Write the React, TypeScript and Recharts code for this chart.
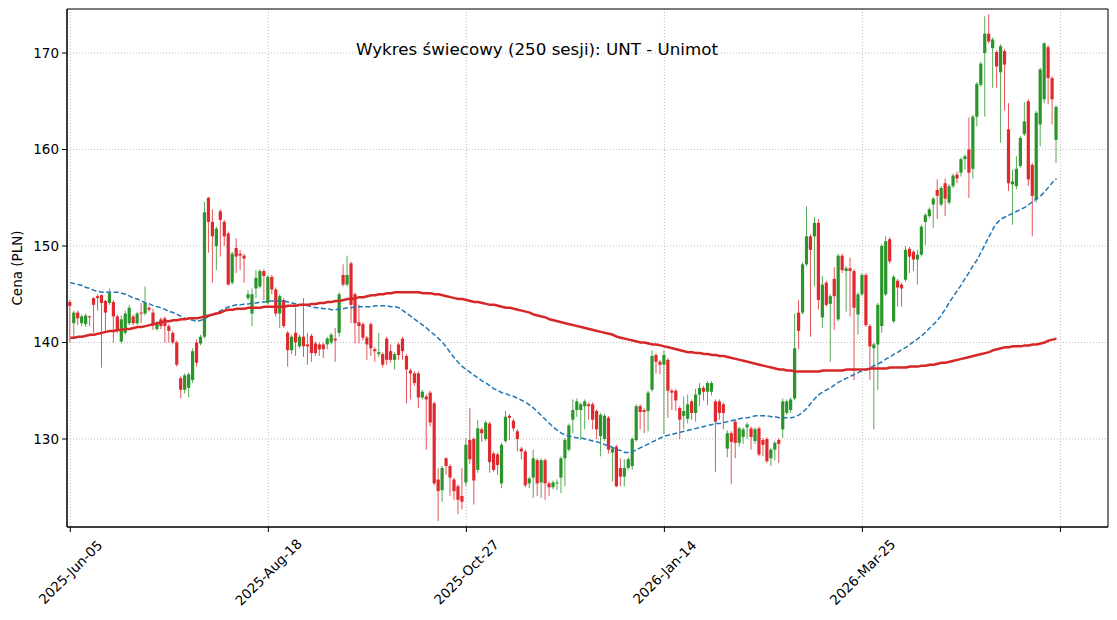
import React from 'react';
import { ComposedChart, Bar, Line, XAxis, YAxis, CartesianGrid, ReferenceArea } from 'recharts';

// Sessions are indexed 0..249; tick labels placed every 50 sessions
const tickIdx = [0, 50, 100, 150, 200, 250];
const tickLabels = ['2025-Jun-05', '2025-Aug-18', '2025-Oct-27', '2026-Jan-14', '2026-Mar-25', ''];
const yTicks = [130, 140, 150, 160, 170];
const xDomain = [-0.83, 262];
const yDomain = [120.88, 174.56];

const opens = [
  144.2, 142.0, 143.1, 142.0, 141.9, 142.7, 144.6, 144.8, 144.9, 144.3,
  144.1, 144.2, 142.7, 140.1, 141.0, 142.0, 142.7, 142.0, 143.1, 143.0,
  143.6, 143.1, 141.4, 142.4, 142.5, 141.7, 141.0, 140.0, 136.3, 135.1,
  135.3, 136.1, 140.0, 139.9, 140.6, 155.0, 152.5, 150.0, 153.6, 152.5,
  151.3, 146.2, 149.8, 149.2, 149.0, 144.6, 143.0, 145.6, 145.8, 147.4,
  144.1, 146.8, 145.5, 143.0, 144.4, 141.0, 139.2, 141.0, 139.6, 140.6,
  139.8, 140.7, 139.9, 139.8, 139.8, 139.8, 140.0, 140.4, 141.0, 147.0,
  146.0, 148.2, 145.0, 142.1, 141.9, 140.5, 141.9, 139.3, 138.8, 138.8,
  140.4, 139.1, 138.2, 139.8, 140.4, 138.6, 137.1, 136.8, 136.8, 134.3,
  134.4, 134.8, 133.7, 125.8, 124.7, 128.0, 127.2, 125.8, 125.1, 124.1,
  125.5, 129.9, 130.0, 126.8, 131.0, 130.0, 131.6, 128.5, 128.4, 125.4,
  129.8, 132.4, 131.9, 130.8, 129.0, 128.7, 125.4, 126.0, 127.8, 125.5,
  127.8, 125.4, 125.0, 125.4, 126.0, 128.0, 128.9, 132.0, 133.0, 133.0,
  133.4, 133.6, 133.6, 132.9, 130.3, 130.0, 132.2, 128.6, 129.2, 127.0,
  126.1, 127.0, 127.2, 129.9, 133.4, 133.0, 132.9, 135.1, 138.7, 138.0,
  137.7, 138.2, 135.0, 135.0, 133.2, 132.4, 132.1, 133.9, 132.7, 134.6,
  135.3, 134.9, 134.9, 133.9, 133.9, 133.6, 129.0, 130.6, 131.8, 129.6,
  130.2, 131.2, 131.1, 129.8, 131.1, 129.9, 130.0, 128.0, 128.9, 129.9,
  131.0, 132.7, 133.0, 134.2, 143.1, 143.1, 148.1, 151.0, 151.0, 152.4,
  142.6, 146.2, 144.0, 146.6, 142.4, 149.0, 147.4, 147.7, 147.4, 142.9,
  145.0, 147.0, 141.7, 139.4, 139.8, 141.7, 145.0, 150.7, 142.2, 146.4,
  146.0, 146.5, 149.7, 149.4, 148.6, 149.1, 152.5, 153.1, 154.3, 155.8,
  154.3, 156.5, 154.5, 156.2, 157.4, 157.6, 159.0, 160.0, 158.0, 163.4,
  166.7, 170.0, 172.0, 170.5, 170.1, 168.0, 170.2, 162.1, 156.4, 156.2,
  158.3, 161.6, 165.0, 158.4, 154.8, 162.6, 165.2, 170.6, 167.4, 161.0,
];

const highs = [
  144.4, 143.3, 143.3, 142.9, 143.0, 142.8, 144.7, 145.0, 145.0, 144.4,
  145.6, 144.4, 142.9, 142.8, 143.3, 143.9, 142.9, 143.2, 144.1, 145.8,
  143.8, 143.5, 142.2, 142.6, 142.7, 141.9, 141.2, 140.2, 136.5, 136.8,
  136.9, 139.4, 140.3, 140.8, 154.6, 155.1, 153.8, 152.0, 153.8, 152.7,
  151.5, 149.4, 150.8, 149.6, 149.2, 145.4, 145.6, 147.5, 147.6, 147.6,
  147.0, 147.0, 145.7, 145.0, 144.6, 141.2, 140.8, 143.6, 140.8, 144.6,
  141.0, 140.9, 140.1, 140.0, 140.0, 140.6, 141.0, 141.5, 145.2, 148.1,
  149.0, 148.4, 145.2, 143.9, 142.1, 140.7, 142.1, 139.5, 141.0, 139.0,
  140.6, 139.8, 139.0, 140.0, 140.6, 138.8, 137.3, 137.0, 137.0, 135.1,
  134.6, 135.0, 133.9, 127.0, 127.2, 128.1, 127.4, 126.0, 125.3, 127.0,
  130.1, 133.2, 130.2, 132.0, 131.2, 131.9, 131.8, 128.7, 128.6, 129.6,
  132.9, 132.6, 132.1, 131.0, 129.2, 128.9, 126.1, 128.9, 128.0, 128.0,
  128.0, 125.6, 125.7, 125.8, 128.2, 130.1, 131.6, 134.1, 134.2, 133.8,
  134.1, 133.8, 133.8, 133.1, 132.7, 132.6, 132.4, 129.2, 129.4, 128.0,
  127.9, 128.1, 130.2, 133.6, 133.6, 133.2, 135.0, 139.2, 138.9, 138.2,
  139.2, 138.4, 135.2, 135.2, 133.4, 134.4, 134.6, 134.1, 135.2, 135.8,
  135.5, 136.0, 136.0, 134.1, 134.1, 133.8, 130.9, 130.8, 132.0, 131.3,
  131.2, 131.7, 131.3, 131.2, 131.3, 130.1, 130.2, 129.1, 129.8, 130.1,
  134.2, 134.1, 134.3, 143.0, 144.4, 148.3, 154.1, 151.2, 153.0, 152.8,
  146.9, 146.4, 145.0, 147.8, 149.2, 149.2, 147.9, 148.8, 147.6, 145.2,
  147.2, 147.2, 141.9, 140.0, 144.1, 150.2, 151.0, 150.9, 147.0, 146.6,
  146.2, 150.0, 149.9, 149.6, 149.6, 152.2, 153.4, 154.0, 155.1, 156.9,
  156.2, 157.0, 156.4, 157.5, 157.7, 159.2, 159.5, 163.3, 163.6, 167.0,
  169.1, 173.8, 174.0, 171.6, 170.3, 170.9, 170.4, 164.8, 157.9, 159.3,
  161.4, 164.9, 165.2, 158.6, 164.0, 168.5, 171.1, 170.8, 167.6, 164.6,
];

const lows = [
  140.0, 140.5, 141.8, 141.7, 141.6, 141.7, 141.0, 143.3, 137.4, 141.0,
  143.9, 140.0, 141.0, 139.9, 140.8, 141.8, 141.8, 141.8, 142.0, 142.8,
  143.2, 141.3, 141.2, 141.4, 140.0, 140.0, 139.8, 137.5, 134.2, 134.7,
  134.3, 135.8, 137.5, 139.7, 140.4, 149.3, 146.2, 147.5, 148.9, 150.0,
  145.9, 146.0, 147.2, 147.5, 146.2, 144.4, 141.7, 144.6, 145.6, 144.4,
  143.9, 145.0, 142.7, 141.5, 141.5, 137.5, 138.8, 138.6, 139.4, 138.5,
  137.7, 138.0, 138.6, 138.6, 138.4, 139.3, 139.8, 138.0, 140.6, 145.8,
  145.8, 142.0, 139.9, 139.9, 140.2, 138.2, 138.6, 138.0, 138.5, 137.4,
  137.7, 137.9, 137.2, 138.2, 138.2, 133.7, 134.1, 135.5, 133.2, 134.1,
  128.9, 131.3, 125.2, 121.5, 123.5, 126.3, 124.1, 123.7, 122.2, 122.7,
  125.1, 127.4, 123.2, 126.5, 129.7, 129.8, 126.5, 126.6, 126.3, 124.9,
  129.6, 129.9, 130.8, 128.7, 127.9, 125.0, 124.9, 123.9, 124.1, 123.9,
  123.7, 124.1, 124.8, 124.7, 124.4, 125.1, 128.7, 130.6, 132.3, 129.9,
  131.0, 132.0, 131.0, 130.0, 128.2, 129.8, 128.5, 125.6, 125.0, 125.1,
  125.1, 126.8, 126.8, 129.7, 131.0, 130.6, 130.8, 134.9, 136.8, 136.7,
  130.5, 132.2, 133.0, 132.9, 130.0, 131.0, 131.6, 132.0, 131.8, 133.4,
  134.0, 133.5, 134.5, 126.6, 132.0, 131.0, 128.1, 125.3, 128.0, 129.2,
  129.5, 130.0, 128.9, 129.5, 128.2, 128.2, 127.5, 127.2, 127.8, 127.5,
  130.1, 132.5, 132.7, 134.0, 139.3, 142.9, 147.9, 140.6, 145.8, 143.4,
  141.5, 143.7, 138.0, 141.3, 142.2, 147.2, 143.2, 142.7, 136.1, 140.8,
  144.8, 141.6, 136.1, 131.0, 135.1, 141.0, 144.8, 148.2, 142.0, 143.7,
  143.7, 146.3, 147.2, 147.4, 146.0, 148.9, 150.1, 152.9, 151.9, 152.8,
  154.1, 153.1, 154.3, 156.0, 156.5, 157.2, 157.9, 155.0, 157.0, 162.4,
  166.5, 163.4, 171.0, 166.4, 166.4, 160.7, 164.0, 155.7, 152.2, 155.9,
  158.1, 161.4, 156.2, 151.0, 154.5, 160.3, 164.8, 164.7, 162.6, 158.6,
];

const closes = [
  143.8, 143.1, 142.5, 142.7, 142.8, 142.6, 143.9, 144.6, 144.1, 143.1,
  145.1, 142.7, 141.2, 142.4, 143.0, 143.6, 142.0, 143.0, 143.0, 144.1,
  143.4, 141.8, 142.0, 141.7, 141.7, 141.2, 140.0, 137.7, 135.1, 136.6,
  136.7, 139.1, 137.9, 140.6, 153.5, 152.5, 151.0, 151.8, 152.7, 151.0,
  146.0, 149.2, 148.9, 149.0, 148.7, 145.0, 145.0, 146.7, 147.4, 146.9,
  146.8, 145.5, 143.0, 144.8, 141.7, 139.2, 140.6, 140.0, 140.6, 139.6,
  139.6, 138.9, 138.9, 139.3, 139.3, 140.4, 140.8, 140.2, 145.0, 146.0,
  147.0, 143.9, 142.0, 141.7, 140.5, 139.8, 139.4, 139.1, 139.0, 137.7,
  138.2, 138.2, 138.8, 138.7, 139.1, 137.2, 136.8, 135.8, 134.3, 134.9,
  134.1, 131.7, 125.4, 124.6, 127.0, 127.2, 126.0, 124.6, 123.7, 123.5,
  129.4, 127.9, 125.7, 131.1, 130.6, 131.7, 127.6, 126.8, 127.3, 129.4,
  132.3, 132.2, 131.1, 130.0, 128.7, 125.2, 125.9, 128.0, 125.4, 127.8,
  125.4, 125.0, 125.5, 125.5, 128.0, 129.9, 131.4, 133.0, 133.9, 133.6,
  133.9, 133.4, 132.0, 131.0, 132.5, 132.4, 128.9, 129.0, 125.1, 126.1,
  127.0, 127.9, 130.0, 133.4, 132.8, 132.8, 134.8, 138.6, 138.0, 137.7,
  138.7, 135.0, 134.8, 134.0, 132.0, 132.9, 133.6, 132.7, 134.6, 135.3,
  134.9, 135.8, 135.8, 131.8, 132.7, 132.7, 130.6, 129.7, 129.6, 131.1,
  131.0, 131.5, 130.2, 131.0, 128.4, 129.4, 127.7, 128.9, 129.6, 129.5,
  133.9, 133.9, 134.1, 139.4, 141.2, 148.1, 151.0, 149.6, 152.4, 144.4,
  146.0, 143.9, 144.8, 144.8, 149.0, 147.5, 147.7, 147.4, 143.6, 145.0,
  147.0, 141.8, 139.6, 139.8, 143.9, 150.0, 150.5, 148.4, 146.8, 145.7,
  145.6, 149.6, 148.9, 148.6, 149.1, 152.0, 153.2, 153.8, 154.9, 155.2,
  156.0, 154.9, 156.2, 157.3, 157.0, 159.0, 159.3, 157.6, 163.4, 166.8,
  168.9, 172.0, 171.2, 171.4, 168.6, 170.7, 168.8, 156.5, 156.7, 158.0,
  161.2, 162.9, 156.9, 155.2, 163.8, 168.3, 171.0, 167.4, 165.2, 164.4,
];

// Moving averages (dashed blue, solid red)
const maShort = [
  146.2, 146.1, 146.0, 145.9, 145.7, 145.6, 145.4, 145.3, 145.2, 145.2,
  145.2, 145.2, 145.2, 145.1, 145.0, 144.8, 144.6, 144.5, 144.3, 144.1,
  144.0, 143.8, 143.7, 143.6, 143.4, 143.2, 143.1, 142.9, 142.7, 142.5,
  142.4, 142.3, 142.2, 142.3, 142.5, 142.7, 142.9, 143.1, 143.3, 143.5,
  143.7, 143.8, 143.9, 143.9, 144.0, 144.0, 144.1, 144.1, 144.2, 144.2,
  144.3, 144.3, 144.3, 144.3, 144.3, 144.2, 144.1, 144.0, 143.9, 143.9,
  143.8, 143.7, 143.6, 143.6, 143.5, 143.5, 143.4, 143.4, 143.5, 143.5,
  143.6, 143.6, 143.7, 143.7, 143.7, 143.7, 143.7, 143.8, 143.8, 143.8,
  143.8, 143.7, 143.7, 143.6, 143.3, 143.0, 142.7, 142.4, 142.1, 141.8,
  141.5, 141.1, 140.8, 140.4, 140.0, 139.5, 138.9, 138.4, 137.9, 137.5,
  137.2, 136.9, 136.6, 136.3, 136.0, 135.8, 135.5, 135.2, 135.0, 134.8,
  134.7, 134.5, 134.4, 134.2, 134.0, 133.8, 133.5, 133.2, 132.8, 132.4,
  132.0, 131.6, 131.2, 130.9, 130.6, 130.4, 130.3, 130.2, 130.1, 130.1,
  130.0, 129.9, 129.8, 129.7, 129.6, 129.4, 129.3, 129.1, 128.9, 128.8,
  128.6, 128.6, 128.7, 128.9, 129.1, 129.3, 129.5, 129.7, 129.9, 130.1,
  130.3, 130.4, 130.5, 130.6, 130.7, 130.8, 130.9, 131.0, 131.1, 131.2,
  131.3, 131.4, 131.5, 131.6, 131.6, 131.7, 131.8, 131.9, 132.0, 132.1,
  132.2, 132.2, 132.3, 132.4, 132.4, 132.4, 132.4, 132.3, 132.3, 132.2,
  132.2, 132.2, 132.2, 132.3, 132.5, 132.8, 133.2, 133.7, 134.2, 134.6,
  134.9, 135.1, 135.3, 135.6, 135.9, 136.1, 136.3, 136.5, 136.7, 136.9,
  137.1, 137.2, 137.4, 137.6, 137.8, 138.0, 138.3, 138.5, 138.8, 139.0,
  139.3, 139.5, 139.8, 140.1, 140.4, 140.7, 141.1, 141.5, 141.9, 142.3,
  142.9, 143.5, 144.2, 144.8, 145.4, 146.0, 146.7, 147.3, 148.0, 148.6,
  149.4, 150.2, 151.0, 151.8, 152.4, 152.8, 153.0, 153.2, 153.4, 153.6,
  153.8, 154.0, 154.3, 154.6, 154.9, 155.2, 155.6, 156.1, 156.6, 157.0,
];

const maLong = [
  140.5, 140.5, 140.6, 140.6, 140.7, 140.8, 140.8, 140.9, 141.0, 141.1,
  141.2, 141.2, 141.3, 141.3, 141.4, 141.4, 141.5, 141.6, 141.6, 141.7,
  141.8, 141.9, 142.0, 142.1, 142.2, 142.2, 142.3, 142.3, 142.4, 142.4,
  142.5, 142.5, 142.5, 142.6, 142.7, 142.8, 142.9, 143.0, 143.1, 143.3,
  143.4, 143.4, 143.5, 143.5, 143.5, 143.6, 143.6, 143.6, 143.6, 143.7,
  143.7, 143.7, 143.7, 143.7, 143.7, 143.8, 143.8, 143.8, 143.9, 143.9,
  143.9, 144.0, 144.0, 144.1, 144.1, 144.2, 144.2, 144.3, 144.3, 144.4,
  144.5, 144.5, 144.6, 144.7, 144.7, 144.8, 144.9, 144.9, 145.0, 145.0,
  145.1, 145.1, 145.2, 145.2, 145.2, 145.2, 145.2, 145.2, 145.2, 145.1,
  145.1, 145.1, 145.0, 145.0, 144.9, 144.8, 144.7, 144.6, 144.5, 144.5,
  144.4, 144.3, 144.2, 144.2, 144.1, 144.0, 143.9, 143.9, 143.8, 143.7,
  143.6, 143.6, 143.5, 143.4, 143.3, 143.2, 143.1, 142.9, 142.8, 142.7,
  142.6, 142.4, 142.3, 142.2, 142.1, 142.0, 141.9, 141.8, 141.7, 141.6,
  141.5, 141.4, 141.3, 141.2, 141.1, 141.0, 140.9, 140.8, 140.6, 140.5,
  140.4, 140.3, 140.2, 140.1, 140.0, 140.0, 139.9, 139.8, 139.8, 139.7,
  139.6, 139.5, 139.4, 139.3, 139.2, 139.1, 139.0, 139.0, 138.9, 138.9,
  138.8, 138.8, 138.7, 138.7, 138.6, 138.6, 138.5, 138.4, 138.3, 138.2,
  138.1, 138.0, 137.9, 137.8, 137.7, 137.6, 137.5, 137.4, 137.3, 137.2,
  137.2, 137.1, 137.1, 137.0, 137.0, 137.0, 137.0, 137.0, 137.0, 137.0,
  137.1, 137.1, 137.1, 137.1, 137.1, 137.1, 137.2, 137.2, 137.2, 137.2,
  137.2, 137.2, 137.3, 137.3, 137.3, 137.3, 137.3, 137.4, 137.4, 137.4,
  137.4, 137.4, 137.5, 137.5, 137.5, 137.6, 137.6, 137.7, 137.7, 137.8,
  137.9, 137.9, 138.0, 138.1, 138.2, 138.3, 138.4, 138.5, 138.6, 138.7,
  138.8, 138.9, 139.0, 139.2, 139.3, 139.4, 139.5, 139.5, 139.6, 139.6,
  139.6, 139.7, 139.7, 139.8, 139.8, 139.9, 140.0, 140.2, 140.3, 140.4,
];

const GREEN = '#2a962a';
const RED = '#e0282e';
const FONT = '"DejaVu Sans", sans-serif';

const data = opens.map((o, i) => ({
  i,
  open: o,
  high: highs[i],
  low: lows[i],
  close: closes[i],
  range: [lows[i], highs[i]],
  maShort: maShort[i],
  maLong: maLong[i],
}));

const Candle = (props: any) => {
  const { x, y, width, height, payload } = props;
  if (!payload || x == null || y == null) return null;
  const { open, close, high, low } = payload;
  const span = high - low;
  const ppu = span > 0 ? height / span : 0;
  const cx = x + width / 2;
  const up = close >= open;
  const color = up ? GREEN : RED;
  const top = y + (high - Math.max(open, close)) * ppu;
  let bh = Math.abs(close - open) * ppu;
  if (bh < 1) bh = 1;
  return (
    <g>
      <line x1={cx} x2={cx} y1={y} y2={y + height} stroke={color} strokeWidth={0.8} />
      <rect x={cx - 1.6} y={top} width={3.2} height={bh} fill={color} />
    </g>
  );
};

const XTick = (props: any) => {
  const { x, y, payload } = props;
  const idx = tickIdx.indexOf(payload.value);
  const label = idx >= 0 ? tickLabels[idx] : '';
  if (!label) return null;
  const cy = y + 38;
  return (
    <text
      x={x}
      y={cy}
      textAnchor="middle"
      dominantBaseline="central"
      transform={`rotate(-45, ${x}, ${cy})`}
      fontSize={13.5}
      fontFamily={FONT}
      fill="#000"
    >
      {label}
    </text>
  );
};

const YLabel = () => (
  <text
    x={17}
    y={268}
    textAnchor="middle"
    dominantBaseline="central"
    transform="rotate(-90, 17, 268)"
    fontSize={13.5}
    fontFamily={FONT}
    fill="#000"
  >
    Cena (PLN)
  </text>
);

export default function App() {
  return (
    <div
      style={{
        position: 'absolute',
        left: 0,
        top: 0,
        width: 1117,
        height: 620,
        background: '#fff',
        fontFamily: FONT,
      }}
    >
      <ComposedChart
        width={1117}
        height={620}
        data={data}
        margin={{ top: 9, right: 9, left: 0, bottom: 0 }}
      >
        <CartesianGrid stroke="#b0b0b0" strokeDasharray="1 2" strokeWidth={0.8} />
        <XAxis
          dataKey="i"
          type="number"
          domain={xDomain}
          ticks={tickIdx}
          allowDataOverflow
          height={93}
          tickSize={5}
          tickMargin={2}
          tick={<XTick />}
          axisLine={{ stroke: '#000', strokeWidth: 1 }}
          tickLine={{ stroke: '#000' }}
          interval={0}
        />
        <YAxis
          type="number"
          domain={yDomain}
          ticks={yTicks}
          allowDataOverflow
          width={67}
          tickSize={5}
          tickMargin={3}
          tick={{ fontSize: 13.5, fill: '#000', fontFamily: FONT }}
          axisLine={{ stroke: '#000', strokeWidth: 1 }}
          tickLine={{ stroke: '#000' }}
          label={<YLabel />}
        />
        <Bar dataKey="range" barSize={3} shape={<Candle />} isAnimationActive={false} />
        <Line
          type="linear"
          dataKey="maShort"
          stroke="#1f77b4"
          strokeWidth={1.5}
          strokeDasharray="5 2.5"
          dot={false}
          activeDot={false}
          isAnimationActive={false}
        />
        <Line
          type="linear"
          dataKey="maLong"
          stroke="#d62728"
          strokeWidth={2.5}
          dot={false}
          activeDot={false}
          isAnimationActive={false}
        />
        <ReferenceArea
          x1={xDomain[0]}
          x2={xDomain[1]}
          y1={yDomain[0]}
          y2={yDomain[1]}
          fill="none"
          fillOpacity={0}
          stroke="#000"
          strokeWidth={1}
          ifOverflow="visible"
        />
      </ComposedChart>
      <div
        style={{
          position: 'absolute',
          left: 0,
          top: 39,
          width: 1074,
          textAlign: 'center',
          fontSize: 16.7,
          lineHeight: '20px',
          fontFamily: FONT,
          color: '#000',
          whiteSpace: 'nowrap',
        }}
      >
        Wykres świecowy (250 sesji): UNT - Unimot
      </div>
    </div>
  );
}
